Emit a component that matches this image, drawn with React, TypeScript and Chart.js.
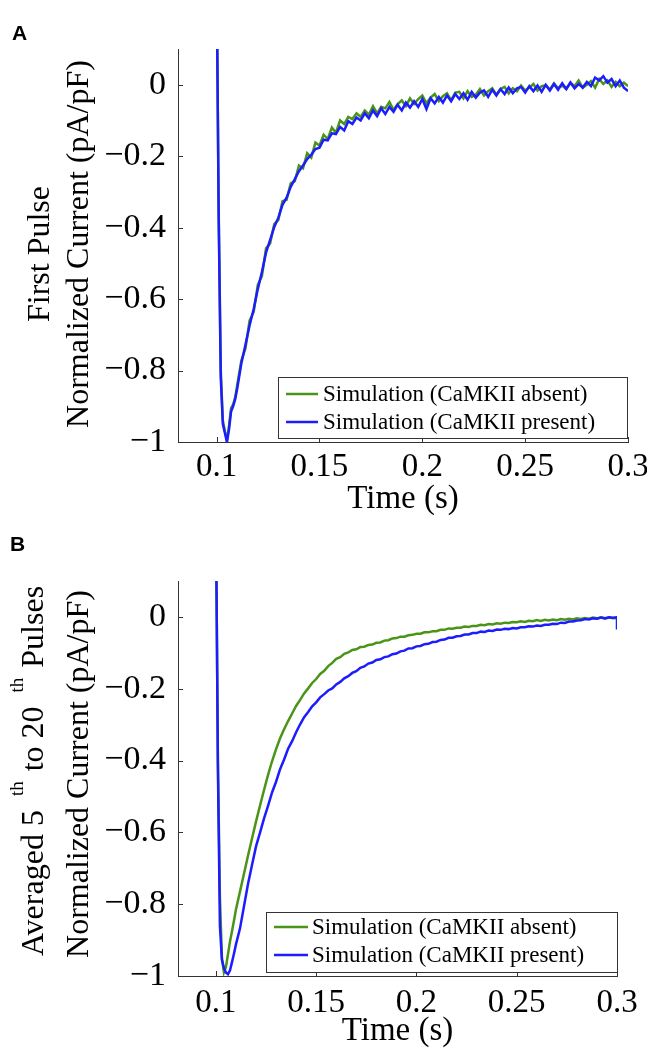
import React, { useEffect, useRef } from 'react';
import { Chart, registerables } from 'chart.js';

Chart.register(...registerables);

// ---------------- data ----------------
const TIME_A = [
  0.1, 0.101, 0.102, 0.103, 0.104, 0.105, 0.106, 0.107, 0.108, 0.109,
  0.11, 0.112, 0.114, 0.116, 0.118, 0.12, 0.122, 0.124, 0.126, 0.128,
  0.13, 0.132, 0.134, 0.136, 0.138, 0.14, 0.142, 0.144, 0.146, 0.148,
  0.15, 0.152, 0.154, 0.156, 0.158, 0.16, 0.162, 0.164, 0.166, 0.168,
  0.17, 0.172, 0.174, 0.176, 0.178, 0.18, 0.182, 0.184, 0.186, 0.188,
  0.19, 0.192, 0.194, 0.196, 0.198, 0.2, 0.202, 0.204, 0.206, 0.208,
  0.21, 0.212, 0.214, 0.216, 0.218, 0.22, 0.222, 0.224, 0.226, 0.228,
  0.23, 0.232, 0.234, 0.236, 0.238, 0.24, 0.242, 0.244, 0.246, 0.248,
  0.25, 0.252, 0.254, 0.256, 0.258, 0.26, 0.262, 0.264, 0.266, 0.268,
  0.27, 0.272, 0.274, 0.276, 0.278, 0.28, 0.282, 0.284, 0.286, 0.288,
  0.29, 0.292, 0.294, 0.296, 0.298, 0.3,
];
// panel B ends with a vertical step at t = 0.3
const TIME_B = [...TIME_A, 0.3];

// Panel A: first pulse
const A_ABSENT = [
  0.30, -0.36, -0.80, -0.94, -0.97, -0.995, -0.955, -0.905, -0.895, -0.875,
  -0.840, -0.772, -0.738, -0.660, -0.636, -0.560, -0.536, -0.458, -0.444, -0.390,
  -0.378, -0.326, -0.322, -0.276, -0.270, -0.226, -0.234, -0.192, -0.204, -0.162,
  -0.170, -0.140, -0.152, -0.120, -0.134, -0.100, -0.110, -0.090, -0.096, -0.080,
  -0.090, -0.072, -0.084, -0.060, -0.080, -0.062, -0.066, -0.048, -0.070, -0.054,
  -0.044, -0.060, -0.038, -0.054, -0.040, -0.030, -0.052, -0.036, -0.026, -0.046,
  -0.032, -0.024, -0.044, -0.022, -0.020, -0.038, -0.018, -0.034, -0.028, -0.012,
  -0.030, -0.018, -0.010, -0.028, -0.012, -0.006, -0.024, -0.010, -0.018, -0.002,
  -0.016, -0.008, 0.002, -0.016, -0.004, -0.002, -0.014, 0.004, -0.010, -0.002,
  -0.012, 0.006, -0.004, 0.012, -0.008, 0.000, 0.010, -0.008, 0.016, 0.002,
  0.012, -0.006, 0.008, -0.004, 0.006, -0.004,
];
const A_PRESENT = [
  0.30, -0.38, -0.82, -0.95, -0.975, -1.0, -0.965, -0.915, -0.900, -0.880,
  -0.850, -0.780, -0.728, -0.674, -0.628, -0.572, -0.524, -0.470, -0.434, -0.398,
  -0.372, -0.336, -0.316, -0.286, -0.264, -0.242, -0.226, -0.208, -0.196, -0.180,
  -0.176, -0.154, -0.156, -0.136, -0.138, -0.118, -0.128, -0.102, -0.110, -0.092,
  -0.100, -0.080, -0.094, -0.072, -0.088, -0.066, -0.082, -0.062, -0.076, -0.056,
  -0.072, -0.050, -0.064, -0.046, -0.062, -0.040, -0.068, -0.038, -0.052, -0.034,
  -0.050, -0.030, -0.046, -0.026, -0.040, -0.024, -0.042, -0.020, -0.036, -0.022,
  -0.016, -0.034, -0.014, -0.030, -0.012, -0.026, -0.008, -0.024, -0.010, -0.006,
  -0.022, -0.004, -0.018, -0.002, -0.020, 0.000, -0.016, 0.002, -0.014, 0.004,
  -0.012, 0.006, -0.010, 0.002, -0.008, 0.008, -0.004, 0.020, 0.012, 0.024,
  0.006, 0.016, -0.004, 0.012, -0.008, -0.018,
];

// Panel B: averaged 5th to 20th pulses
const B_ABSENT = [
  0.30, -0.40, -0.78, -0.95, -0.990, -0.975, -0.940, -0.905, -0.876, -0.846,
  -0.815, -0.765, -0.715, -0.665, -0.617, -0.570, -0.525, -0.482, -0.440, -0.402,
  -0.368, -0.338, -0.313, -0.290, -0.269, -0.248, -0.231, -0.213, -0.199, -0.184,
  -0.173, -0.159, -0.150, -0.137, -0.128, -0.117, -0.112, -0.103, -0.099, -0.092,
  -0.090, -0.084, -0.083, -0.078, -0.077, -0.072, -0.071, -0.066, -0.065, -0.060,
  -0.059, -0.055, -0.055, -0.051, -0.050, -0.047, -0.047, -0.043, -0.043, -0.040,
  -0.040, -0.036, -0.036, -0.032, -0.033, -0.030, -0.030, -0.027, -0.028, -0.025,
  -0.025, -0.022, -0.023, -0.020, -0.021, -0.018, -0.019, -0.016, -0.017, -0.014,
  -0.015, -0.012, -0.014, -0.011, -0.012, -0.009, -0.011, -0.008, -0.010, -0.007,
  -0.009, -0.006, -0.008, -0.005, -0.007, -0.004, -0.006, -0.003, -0.005, -0.002,
  -0.004, -0.001, -0.004, -0.002, -0.004, -0.003,
  -0.003,
];
const B_PRESENT = [
  0.30, -0.42, -0.86, -0.955, -0.978, -0.990, -0.995, -0.985, -0.962, -0.938,
  -0.912, -0.868, -0.806, -0.744, -0.691, -0.639, -0.601, -0.561, -0.526, -0.489,
  -0.459, -0.424, -0.397, -0.367, -0.346, -0.321, -0.299, -0.279, -0.265, -0.249,
  -0.238, -0.224, -0.215, -0.205, -0.199, -0.188, -0.181, -0.171, -0.165, -0.156,
  -0.151, -0.142, -0.138, -0.130, -0.127, -0.120, -0.118, -0.112, -0.110, -0.104,
  -0.102, -0.096, -0.094, -0.088, -0.087, -0.082, -0.081, -0.076, -0.075, -0.070,
  -0.069, -0.064, -0.063, -0.058, -0.058, -0.054, -0.053, -0.049, -0.049, -0.045,
  -0.045, -0.041, -0.042, -0.038, -0.039, -0.035, -0.036, -0.033, -0.034, -0.031,
  -0.032, -0.029, -0.029, -0.026, -0.027, -0.024, -0.025, -0.022, -0.022, -0.019,
  -0.020, -0.016, -0.017, -0.013, -0.013, -0.010, -0.009, -0.006, -0.007, -0.004,
  -0.005, -0.002, -0.004, -0.001, -0.002, -0.001,
  -0.035,
];

const SERIES_LABELS = ['Simulation (CaMKII absent)', 'Simulation (CaMKII present)'];
const X_TICKS = [0.1, 0.15, 0.2, 0.25, 0.3];
const X_TICK_LABELS = ['0.1', '0.15', '0.2', '0.25', '0.3'];
const Y_TICKS = [-1, -0.8, -0.6, -0.4, -0.2, 0];
const Y_TICK_LABELS = ['\u22121', '\u22120.8', '\u22120.6', '\u22120.4', '\u22120.2', '0'];
const X_TITLE = 'Time (s)';

// ---------------- styles ----------------
const GREEN = '#4a9418';
const BLUE = '#1c1cff';
const AXIS = '#333333';
const SERIF = '"Liberation Serif", "Times New Roman", serif';
const SANS = '"Liberation Sans", Arial, sans-serif';

const PANELS = [
  {
    letter: 'A', letterX: 12, letterY: 40,
    time: TIME_A, absent: A_ABSENT, present: A_PRESENT,
    xMin: 0.0812, padTop: 49, padRight: 19, xHeight: 83, xTickPad: 6, xTitlePad: 9,
    titleLines: [
      { x: 49, cy: 254, segs: [{ t: 'First Pulse' }] },
      { x: 88, cy: 244, segs: [{ t: 'Normalized Current (pA/pF)' }] },
    ],
    legend: { left: 278, top: 377, right: 627, bottom: 438, rows: [394, 422], lx0: 286, lx1: 318, tx: 323 },
  },
  {
    letter: 'B', letterX: 10, letterY: 26,
    time: TIME_B, absent: B_ABSENT, present: B_PRESENT,
    xMin: 0.0811, padTop: 56, padRight: 30, xHeight: 74, xTickPad: 8, xTitlePad: 2,
    titleLines: [
      {
        x: 43, cy: 246, segs: [
          { t: 'Averaged 5' },
          { t: 'th', sup: true, gap: 14 },
          { t: 'to 20', gap: 10 },
          { t: 'th', sup: true, gap: 14 },
          { t: 'Pulses', gap: 10 },
        ],
      },
      { x: 88, cy: 249, segs: [{ t: 'Normalized Current (pA/pF)' }] },
    ],
    legend: { left: 266, top: 387, right: 617, bottom: 447, rows: [402, 430], lx0: 274, lx1: 308, tx: 312 },
  },
];

// ---------------- plugins ----------------
const inwardTicks = {
  id: 'inwardTicks',
  afterDatasetsDraw(chart: any) {
    const { ctx, chartArea, scales } = chart;
    ctx.save();
    ctx.strokeStyle = AXIS;
    ctx.lineWidth = 1;
    scales.x.ticks.forEach((t: any) => {
      const px = Math.round(scales.x.getPixelForValue(t.value)) + 0.5;
      ctx.beginPath();
      ctx.moveTo(px, chartArea.bottom);
      ctx.lineTo(px, chartArea.bottom - 5);
      ctx.stroke();
    });
    scales.y.ticks.forEach((t: any) => {
      const py = Math.round(scales.y.getPixelForValue(t.value)) + 0.5;
      ctx.beginPath();
      ctx.moveTo(chartArea.left, py);
      ctx.lineTo(chartArea.left + 5, py);
      ctx.stroke();
    });
    ctx.restore();
  },
};

const decor = {
  id: 'decor',
  afterDraw(chart: any, _args: any, opts: any) {
    const ctx = chart.ctx;
    const p = opts.panel;
    ctx.save();
    // panel letter
    ctx.fillStyle = '#000';
    ctx.font = `bold 21px ${SANS}`;
    ctx.textAlign = 'left';
    ctx.textBaseline = 'alphabetic';
    ctx.fillText(p.letter, p.letterX, p.letterY);

    // y-axis title (rotated, with superscripts)
    const mainFont = `32px ${SERIF}`;
    const supFont = `19px ${SERIF}`;
    p.titleLines.forEach((line: any) => {
      const widths = line.segs.map((s: any) => {
        ctx.font = s.sup ? supFont : mainFont;
        return ctx.measureText(s.t).width;
      });
      let total = 0;
      line.segs.forEach((s: any, i: number) => { total += widths[i] + (s.gap || 0); });
      ctx.save();
      ctx.translate(line.x, line.cy);
      ctx.rotate(-Math.PI / 2);
      let u = -total / 2;
      line.segs.forEach((s: any, i: number) => {
        u += s.gap || 0;
        ctx.font = s.sup ? supFont : mainFont;
        ctx.fillText(s.t, u, s.sup ? -20 : 0);
        u += widths[i];
      });
      ctx.restore();
    });

    // legend box
    const L = p.legend;
    ctx.fillStyle = '#fff';
    ctx.fillRect(L.left, L.top, L.right - L.left, L.bottom - L.top);
    ctx.strokeStyle = AXIS;
    ctx.lineWidth = 1;
    ctx.strokeRect(L.left + 0.5, L.top + 0.5, L.right - L.left, L.bottom - L.top);
    const ds = chart.data.datasets;
    ctx.font = `23px ${SERIF}`;
    ctx.textBaseline = 'middle';
    ds.forEach((d: any, i: number) => {
      const y = L.rows[i];
      ctx.strokeStyle = d.borderColor;
      ctx.lineWidth = 2.5;
      ctx.beginPath();
      ctx.moveTo(L.lx0, y);
      ctx.lineTo(L.lx1, y);
      ctx.stroke();
      ctx.fillStyle = '#000';
      ctx.fillText(d.label, L.tx, y + 1);
    });
    ctx.restore();
  },
};

function makeConfig(p: any): any {
  const toPts = (vals: number[]) => p.time.map((t: number, i: number) => ({ x: t, y: vals[i] }));
  return {
    type: 'line',
    data: {
      datasets: [
        { label: SERIES_LABELS[0], data: toPts(p.absent), borderColor: GREEN, borderWidth: 2.5, pointRadius: 0, order: 1 },
        { label: SERIES_LABELS[1], data: toPts(p.present), borderColor: BLUE, borderWidth: 2.5, pointRadius: 0, order: 0 },
      ],
    },
    plugins: [inwardTicks, decor],
    options: {
      responsive: false,
      animation: false,
      devicePixelRatio: 1,
      parsing: false,
      layout: { padding: { left: 0, right: p.padRight, top: p.padTop, bottom: 0 } },
      elements: { line: { tension: 0 }, point: { radius: 0 } },
      plugins: {
        legend: { display: false },
        tooltip: { enabled: false },
        decor: { panel: p },
      },
      scales: {
        x: {
          type: 'linear',
          min: p.xMin,
          max: 0.3,
          afterBuildTicks: (s: any) => { s.ticks = X_TICKS.map((v) => ({ value: v })); },
          afterFit: (s: any) => {
            s.height = p.xHeight;
            s.paddingLeft = 0; s.paddingRight = 0; s.paddingTop = 0; s.paddingBottom = 0;
          },
          grid: { display: false, drawTicks: false },
          border: { display: true, color: AXIS, width: 1 },
          ticks: {
            color: '#000',
            font: { family: SERIF, size: 33 },
            padding: p.xTickPad,
            maxRotation: 0,
            autoSkip: false,
            callback: (v: number) => {
              const i = X_TICKS.findIndex((t) => Math.abs(t - v) < 1e-9);
              return i >= 0 ? X_TICK_LABELS[i] : '';
            },
          },
          title: {
            display: true,
            text: X_TITLE,
            color: '#000',
            font: { family: SERIF, size: 33, lineHeight: 1 },
            padding: { top: 0, bottom: p.xTitlePad },
          },
        },
        y: {
          type: 'linear',
          min: -1,
          max: 0.1,
          afterBuildTicks: (s: any) => { s.ticks = Y_TICKS.map((v) => ({ value: v })); },
          afterFit: (s: any) => {
            s.width = 178;
            s.paddingLeft = 0; s.paddingRight = 0; s.paddingTop = 0; s.paddingBottom = 0;
          },
          grid: { display: false, drawTicks: false },
          border: { display: true, color: AXIS, width: 1 },
          ticks: {
            color: '#000',
            font: { family: SERIF, size: 34 },
            padding: 12,
            autoSkip: false,
            callback: (v: number) => {
              const i = Y_TICKS.findIndex((t) => Math.abs(t - v) < 1e-9);
              return i >= 0 ? Y_TICK_LABELS[i] : '';
            },
          },
        },
      },
    },
  };
}

export default function App() {
  const refA = useRef<HTMLCanvasElement | null>(null);
  const refB = useRef<HTMLCanvasElement | null>(null);

  useEffect(() => {
    const a = new Chart(refA.current as HTMLCanvasElement, makeConfig(PANELS[0]));
    const b = new Chart(refB.current as HTMLCanvasElement, makeConfig(PANELS[1]));
    return () => {
      a.destroy();
      b.destroy();
    };
  }, []);

  return (
    <div style={{ position: 'absolute', left: 0, top: 0, width: 647, height: 1050, background: '#fff' }}>
      <canvas ref={refA} width={647} height={525}
        style={{ position: 'absolute', left: 0, top: 0, width: 647, height: 525 }} />
      <canvas ref={refB} width={647} height={525}
        style={{ position: 'absolute', left: 0, top: 525, width: 647, height: 525 }} />
    </div>
  );
}
